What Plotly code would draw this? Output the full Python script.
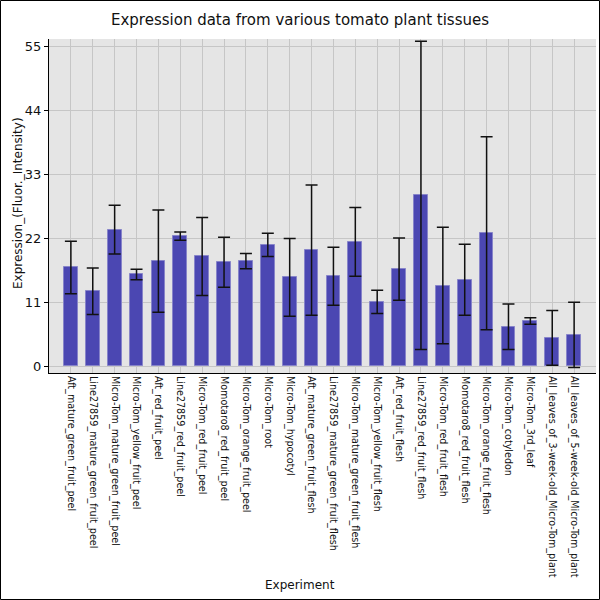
import plotly.graph_objects as go

experiments = [
    "Aft_mature_green_fruit_peel",
    "Line27859_mature_green_fruit_peel",
    "Micro-Tom_mature_green_fruit_peel",
    "Micro-Tom_yellow_fruit_peel",
    "Aft_red_fruit_peel",
    "Line27859_red_fruit_peel",
    "Micro-Tom_red_fruit_peel",
    "Momotaro8_red_fruit_peel",
    "Micro-Tom_orange_fruit_peel",
    "Micro-Tom_root",
    "Micro-Tom_hypocotyl",
    "Aft_mature_green_fruit_flesh",
    "Line27859_mature_green_fruit_flesh",
    "Micro-Tom_mature_green_fruit_flesh",
    "Micro-Tom_yellow_fruit_flesh",
    "Aft_red_fruit_flesh",
    "Line27859_red_fruit_flesh",
    "Micro-Tom_red_fruit_flesh",
    "Momotaro8_red_fruit_flesh",
    "Micro-Tom_orange_fruit_flesh",
    "Micro-Tom_cotyledon",
    "Micro-Tom_3rd_leaf",
    "All_leaves_of_3-week-old_Micro-Tom_plant",
    "All_leaves_of_5-week-old_Micro-Tom_plant",
]
expression = [17.0, 12.9, 23.5, 15.8, 18.1, 22.4, 18.9, 17.9, 18.1, 20.9, 15.3, 20.0,
              15.5, 21.4, 11.1, 16.7, 29.4, 13.9, 14.9, 22.9, 6.8, 7.8, 4.9, 5.4]
errors = [4.5, 4.0, 4.2, 0.9, 8.8, 0.7, 6.7, 4.3, 1.3, 2.0, 6.7, 11.2,
          5.0, 5.9, 2.0, 5.35, 26.5, 10.0, 6.1, 16.6, 3.9, 0.55, 4.7, 5.6]
y_ticks = [0, 11, 22, 33, 44, 55]

fig = go.Figure()
fig.add_trace(go.Bar(
    x=list(range(len(experiments))),
    y=expression,
    width=0.63,
    marker=dict(color="#4b47b2", line=dict(color="#8784c9", width=1)),
    error_y=dict(type="data", array=errors, visible=True, color="#111111",
                 thickness=1.5, width=6),
))

L, R, T, B = 49, 4, 39, 227
pw = 600 - L - R
ph = 600 - T - B
fig.update_layout(
    width=600, height=600,
    margin=dict(l=L, r=R, t=T, b=B),
    paper_bgcolor="white",
    plot_bgcolor="#e5e5e5",
    font=dict(family="DejaVu Sans", color="#111111"),
    title=dict(text="Expression data from various tomato plant tissues",
               x=0.5, xanchor="center", y=1 - 20 / 600, yanchor="middle",
               font=dict(size=15, color="#111111")),
    showlegend=False,
    bargap=0,
    xaxis=dict(
        range=[-1, len(experiments)],
        tickmode="array",
        tickvals=list(range(len(experiments))),
        ticktext=experiments,
        tickangle=90,
        tickfont=dict(size=9.6),
        showgrid=True, gridcolor="#c6c6c6", gridwidth=1,
        showline=True, linecolor="black", linewidth=1,
        ticks="", zeroline=False,
        automargin=False,
    ),
    yaxis=dict(
        range=[-1.15, 56.3],
        tickmode="array",
        tickvals=y_ticks,
        tickfont=dict(size=13),
        showgrid=True, gridcolor="#c6c6c6", gridwidth=1,
        showline=True, linecolor="black", linewidth=1,
        ticks="outside", ticklen=4, tickcolor="black",
        zeroline=False,
        automargin=False,
    ),
    annotations=[
        dict(text="Experiment", xref="paper", yref="paper",
             x=(300 - L) / pw,
             y=-(585 - (600 - B)) / ph,
             xanchor="center", yanchor="middle", showarrow=False,
             font=dict(size=12)),
        dict(text="Expression_(Fluor._Intensity)", xref="paper", yref="paper",
             x=-(L - 18) / pw, y=(600 - B - 203) / ph, textangle=-90,
             xanchor="center", yanchor="middle", showarrow=False,
             font=dict(size=12)),
    ],
    shapes=[dict(type="rect", xref="paper", yref="paper",
                 x0=(-L + 0.5) / pw, x1=(pw + R - 0.5) / pw,
                 y0=(-B + 0.5) / ph, y1=(ph + T - 0.5) / ph,
                 line=dict(color="black", width=1), fillcolor="rgba(0,0,0,0)",
                 layer="above")],
)
fig.write_html("out.html",
               config={"displayModeBar": False},
               post_script="document.body.style.margin='0px';document.body.style.overflow='hidden';")
